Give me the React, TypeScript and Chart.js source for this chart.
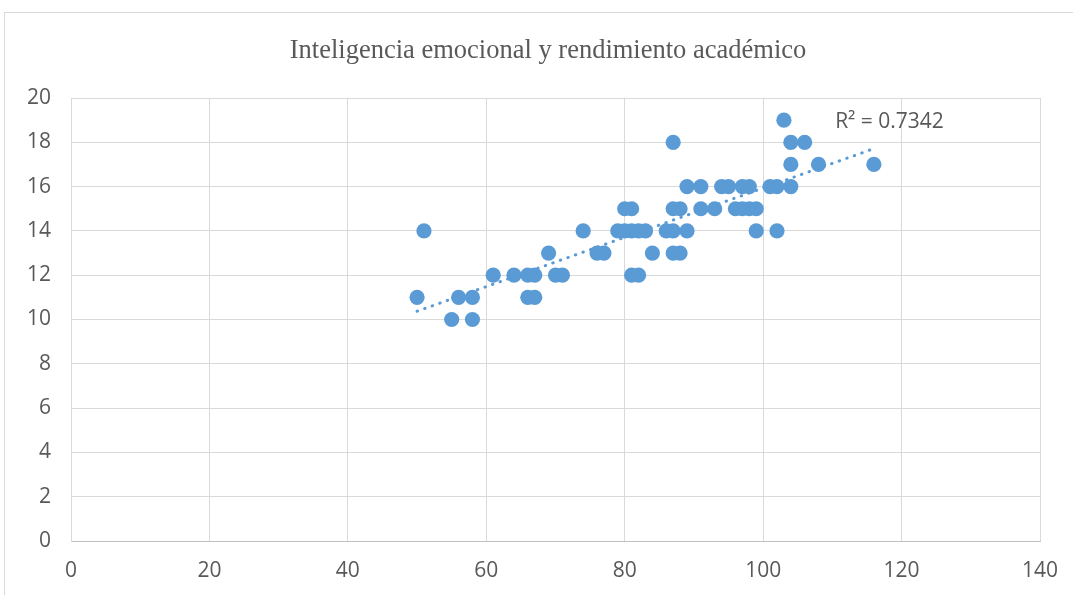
import React, { useEffect, useRef } from "react";
import { Chart, registerables } from "chart.js";

Chart.register(...registerables);

const chartTitle = "Inteligencia emocional y rendimiento académico";
const r2Label = "R² = 0.7342";

// Inteligencia emocional (x) and rendimiento académico (y)
const emotionalIntelligence = [
  50, 51, 55, 56, 58, 58, 61, 64, 66, 67, 66, 67, 69, 70, 71, 74, 76, 77, 79, 80,
  81, 82, 83, 80, 81, 81, 82, 84, 86, 87, 89, 87, 88, 87, 88, 87, 89, 91, 91, 93,
  94, 95, 97, 98, 101, 102, 104, 96, 97, 98, 99, 99, 102, 103, 104, 106, 104, 108, 116,
];
const academicPerformance = [
  11, 14, 10, 11, 11, 10, 12, 12, 12, 12, 11, 11, 13, 12, 12, 14, 13, 13, 14, 14,
  14, 14, 14, 15, 15, 12, 12, 13, 14, 14, 14, 15, 15, 13, 13, 18, 16, 16, 15, 15,
  16, 16, 16, 16, 16, 16, 16, 15, 15, 15, 15, 14, 14, 19, 18, 18, 17, 17, 17,
];

const xAxisMin = 0;
const xAxisMax = 140;
const xAxisStep = 20;
const yAxisMin = 0;
const yAxisMax = 20;
const yAxisStep = 2;

function linearFit(xs: number[], ys: number[]) {
  const n = xs.length;
  const mx = xs.reduce((a, b) => a + b, 0) / n;
  const my = ys.reduce((a, b) => a + b, 0) / n;
  let sxy = 0;
  let sxx = 0;
  for (let i = 0; i < n; i++) {
    sxy += (xs[i] - mx) * (ys[i] - my);
    sxx += (xs[i] - mx) * (xs[i] - mx);
  }
  const slope = sxy / sxx;
  return { slope, intercept: my - slope * mx };
}

const BLUE = "#5b9bd5";
const TEXT = "#595959";
const GRID = "#d9d9d9";

export default function App() {
  const ref = useRef<HTMLCanvasElement | null>(null);

  useEffect(() => {
    if (!ref.current) return;
    const points = emotionalIntelligence.map((x, i) => ({ x, y: academicPerformance[i] }));
    const fit = linearFit(emotionalIntelligence, academicPerformance);
    const minX = Math.min(...emotionalIntelligence);
    const maxX = Math.max(...emotionalIntelligence);
    const trend = [
      { x: minX, y: fit.intercept + fit.slope * minX },
      { x: maxX, y: fit.intercept + fit.slope * maxX },
    ];

    const overlay = {
      id: "overlayText",
      afterDraw(chart: any) {
        const ctx = chart.ctx;
        const xs = chart.scales.x;
        const ys = chart.scales.y;
        ctx.save();
        ctx.fillStyle = TEXT;
        ctx.font = '26.5px "Liberation Serif", serif';
        ctx.textAlign = "center";
        ctx.textBaseline = "alphabetic";
        ctx.fillText(chartTitle, 543, 45);
        ctx.font = '21px "Open Sans", sans-serif';
        ctx.textAlign = "left";
        ctx.textBaseline = "middle";
        ctx.fillText(r2Label, xs.getPixelForValue(110.4), ys.getPixelForValue(18.9));
        ctx.restore();
      },
    };

    const chart = new Chart(ref.current, {
      type: "scatter",
      data: {
        datasets: [
          {
            type: "line",
            label: "Tendencia",
            data: trend,
            borderColor: BLUE,
            borderWidth: 3,
            borderDash: [0.5, 7.5],
            borderCapStyle: "round",
            pointRadius: 0,
            fill: false,
            order: 0,
          },
          {
            label: "Datos",
            data: points,
            backgroundColor: BLUE,
            borderColor: BLUE,
            borderWidth: 0,
            pointRadius: 7.6,
            pointHoverRadius: 7.6,
            order: 1,
          },
        ],
      },
      options: {
        responsive: false,
        animation: false,
        layout: { padding: { top: 85, right: 33, left: 0, bottom: 0 } },
        plugins: {
          legend: { display: false },
          title: { display: false },
          tooltip: { enabled: false },
        },
        scales: {
          x: {
            type: "linear",
            min: xAxisMin,
            max: xAxisMax,
            ticks: {
              stepSize: xAxisStep,
              color: TEXT,
              font: { family: '"Open Sans", sans-serif', size: 21 },
              padding: 17,
            },
            grid: { color: GRID, lineWidth: 1, drawTicks: false },
            border: { color: "#bfbfbf", width: 1 },
            afterFit(scale: any) {
              scale.height = 54;
              scale.paddingLeft = 0;
              scale.paddingRight = 0;
            },
          },
          y: {
            type: "linear",
            min: yAxisMin,
            max: yAxisMax,
            ticks: {
              stepSize: yAxisStep,
              color: TEXT,
              font: { family: '"Open Sans", sans-serif', size: 21 },
              padding: 20,
            },
            grid: { color: GRID, lineWidth: 1, drawTicks: false },
            border: { color: GRID, width: 1 },
            afterFit(scale: any) {
              scale.width = 66;
              scale.paddingTop = 0;
              scale.paddingBottom = 0;
            },
          },
        },
      },
      plugins: [overlay],
    } as any);
    return () => chart.destroy();
  }, []);

  return (
    <div
      style={{
        position: "fixed",
        left: 4,
        top: 12,
        width: 1069,
        height: 583,
        borderLeft: `1px solid ${GRID}`,
        borderTop: `1px solid ${GRID}`,
        background: "#fff",
        overflow: "hidden",
      }}
    >
      <canvas ref={ref} width={1068} height={582} style={{ display: "block", width: 1068, height: 582 }} />
    </div>
  );
}
